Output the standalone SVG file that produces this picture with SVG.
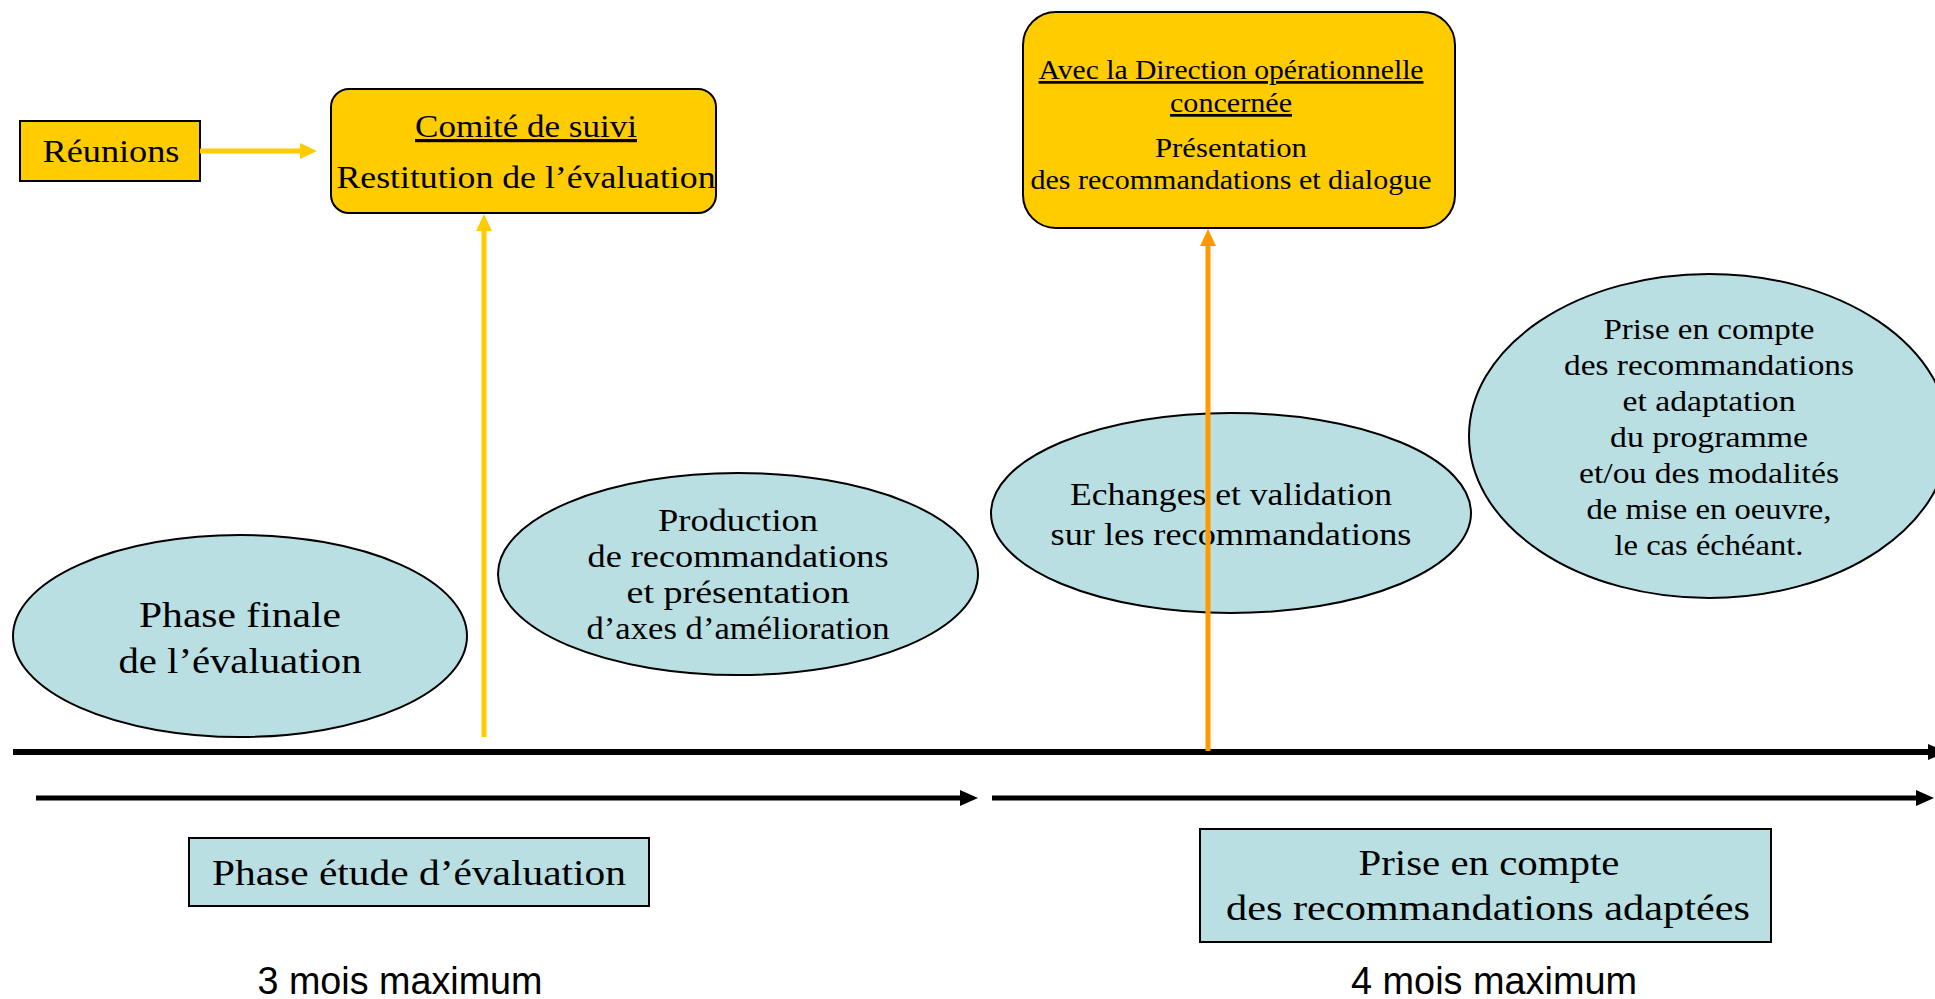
<svg xmlns="http://www.w3.org/2000/svg" width="1935" height="999" viewBox="0 0 1935 999">
<style>
.t{font-family:"Liberation Serif","Times New Roman",serif;fill:#000;text-anchor:middle}
.s{font-family:"Liberation Sans",Arial,sans-serif;fill:#000;text-anchor:middle}
.y{fill:#FFCC00;stroke:#000;stroke-width:2}
.b{fill:#B9DFE2;stroke:#000;stroke-width:2}
</style>
<defs>
<marker id="ak" markerUnits="userSpaceOnUse" markerWidth="20" markerHeight="18" refX="0" refY="8" orient="auto"><path d="M0,0 L18,8 L0,16 z" fill="#000"/></marker>
<marker id="ay" markerUnits="userSpaceOnUse" markerWidth="20" markerHeight="18" refX="0" refY="8" orient="auto"><path d="M0,0 L17,8 L0,16 z" fill="#FFCC00"/></marker>
<marker id="ao" markerUnits="userSpaceOnUse" markerWidth="20" markerHeight="18" refX="0" refY="8" orient="auto"><path d="M0,0 L17,8 L0,16 z" fill="#FF9900"/></marker>
</defs>
<rect width="1935" height="999" fill="#fff"/>

<g id="reunions">
<rect class="y" x="20" y="121" width="180" height="60"/>
<text class="t" x="111" y="162" font-size="31" textLength="137" lengthAdjust="spacingAndGlyphs">Réunions</text>
</g>

<g id="comite">
<rect class="y" x="331" y="89" width="385" height="124" rx="18"/>
<text class="t" x="526" y="137" font-size="32" textLength="222" lengthAdjust="spacingAndGlyphs" text-decoration="underline">Comité de suivi</text>
<text class="t" x="526" y="188" font-size="32" textLength="379" lengthAdjust="spacingAndGlyphs">Restitution de l’évaluation</text>
</g>

<g id="direction">
<rect class="y" x="1023" y="12" width="432" height="216" rx="33"/>
<text class="t" x="1231" y="79" font-size="27" textLength="385" lengthAdjust="spacingAndGlyphs" text-decoration="underline">Avec la Direction opérationnelle</text>
<text class="t" x="1231" y="112" font-size="27" textLength="122" lengthAdjust="spacingAndGlyphs" text-decoration="underline">concernée</text>
<text class="t" x="1231" y="157" font-size="27" textLength="152" lengthAdjust="spacingAndGlyphs">Présentation</text>
<text class="t" x="1231" y="189" font-size="27" textLength="401" lengthAdjust="spacingAndGlyphs">des recommandations et dialogue</text>
</g>

<g id="phase-finale">
<ellipse class="b" cx="240" cy="636" rx="227" ry="101"/>
<text class="t" x="240" y="627" font-size="36" textLength="202" lengthAdjust="spacingAndGlyphs">Phase finale</text>
<text class="t" x="240" y="673" font-size="36" textLength="243" lengthAdjust="spacingAndGlyphs">de l’évaluation</text>
</g>

<g id="production">
<ellipse class="b" cx="738" cy="574" rx="240" ry="101"/>
<text class="t" x="738" y="531" font-size="31" textLength="160" lengthAdjust="spacingAndGlyphs">Production</text>
<text class="t" x="738" y="567" font-size="31" textLength="301" lengthAdjust="spacingAndGlyphs">de recommandations</text>
<text class="t" x="738" y="603" font-size="31" textLength="223" lengthAdjust="spacingAndGlyphs">et présentation</text>
<text class="t" x="738" y="639" font-size="31" textLength="303" lengthAdjust="spacingAndGlyphs">d’axes d’amélioration</text>
</g>

<g id="echanges">
<ellipse class="b" cx="1231" cy="513" rx="240" ry="100"/>
<text class="t" x="1231" y="505" font-size="31" textLength="322" lengthAdjust="spacingAndGlyphs">Echanges et validation</text>
<text class="t" x="1231" y="545" font-size="31" textLength="361" lengthAdjust="spacingAndGlyphs">sur les recommandations</text>
</g>

<g id="prise-en-compte">
<ellipse class="b" cx="1709" cy="436" rx="240" ry="162"/>
<text class="t" x="1709" y="339" font-size="29" textLength="211" lengthAdjust="spacingAndGlyphs">Prise en compte</text>
<text class="t" x="1709" y="375" font-size="29" textLength="290" lengthAdjust="spacingAndGlyphs">des recommandations</text>
<text class="t" x="1709" y="411" font-size="29" textLength="173" lengthAdjust="spacingAndGlyphs">et adaptation</text>
<text class="t" x="1709" y="447" font-size="29" textLength="198" lengthAdjust="spacingAndGlyphs">du programme</text>
<text class="t" x="1709" y="483" font-size="29" textLength="260" lengthAdjust="spacingAndGlyphs">et/ou des modalités</text>
<text class="t" x="1709" y="519" font-size="29" textLength="245" lengthAdjust="spacingAndGlyphs">de mise en oeuvre,</text>
<text class="t" x="1709" y="555" font-size="29" textLength="189" lengthAdjust="spacingAndGlyphs">le cas échéant.</text>
</g>

<g id="phase-etude">
<rect class="b" x="189" y="838" width="460" height="68"/>
<text class="t" x="419" y="885" font-size="35" textLength="414" lengthAdjust="spacingAndGlyphs">Phase étude d’évaluation</text>
</g>

<g id="prise-box">
<rect class="b" x="1200" y="829" width="571" height="113"/>
<text class="t" x="1489" y="875" font-size="35" textLength="261" lengthAdjust="spacingAndGlyphs">Prise en compte</text>
<text class="t" x="1488" y="920" font-size="35" textLength="524" lengthAdjust="spacingAndGlyphs">des recommandations adaptées</text>
</g>

<g id="duree-1">
<text class="s" x="400" y="994" font-size="38" textLength="285" lengthAdjust="spacingAndGlyphs">3 mois maximum</text>
</g>
<g id="duree-2">
<text class="s" x="1494" y="994" font-size="38" textLength="286" lengthAdjust="spacingAndGlyphs">4 mois maximum</text>
</g>

<g id="connectors" fill="none">
<line x1="13" y1="752" x2="1928" y2="752" stroke="#000" stroke-width="6" marker-end="url(#ak)"/>
<line x1="36" y1="798" x2="960" y2="798" stroke="#000" stroke-width="5" marker-end="url(#ak)"/>
<line x1="992" y1="798" x2="1916" y2="798" stroke="#000" stroke-width="5" marker-end="url(#ak)"/>
<line x1="200" y1="151" x2="300" y2="151" stroke="#FFCC00" stroke-width="5" marker-end="url(#ay)"/>
<line x1="484" y1="737" x2="484" y2="231" stroke="#FFCC00" stroke-width="5" marker-end="url(#ay)"/>
<line x1="1208" y1="751" x2="1208" y2="246" stroke="#FF9900" stroke-width="5" marker-end="url(#ao)"/>
</g>
</svg>
